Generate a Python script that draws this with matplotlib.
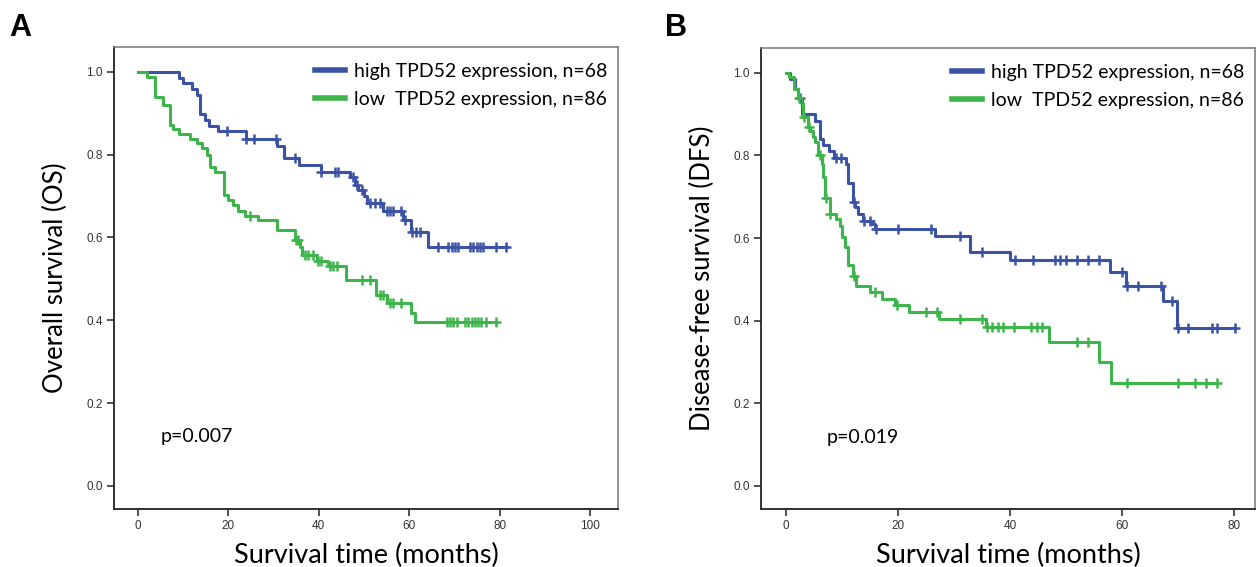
import numpy as np
import matplotlib
matplotlib.use("Agg")
import matplotlib.pyplot as plt

# ---------------- data ----------------
# Panel A: overall survival
a_high_event_t = [9.1, 9.9, 11.9, 13.0, 13.7, 14.8, 15.8, 17.8, 23.8, 30.7, 32.3, 35.6,
                  40.5, 46.8, 48.0, 48.7, 49.9, 50.6, 54.3, 58.7, 60.5, 64.2]
a_high_event_s = [0.985, 0.973, 0.958, 0.944, 0.899, 0.884, 0.870, 0.856, 0.838, 0.821, 0.791, 0.775,
                  0.759, 0.747, 0.727, 0.715, 0.699, 0.684, 0.665, 0.643, 0.612, 0.578]
a_high_cens_t = [19.8, 23.8, 25.7, 30.5, 34.7, 40.6, 43.6, 44.3, 47.5, 48.4, 49.5, 51.3, 52.4, 53.5,
                 55.0, 55.8, 56.5, 58.3, 59.1, 60.6, 61.5, 62.4, 66.4, 68.7, 69.4, 70.1, 70.9,
                 73.4, 74.2, 74.9, 75.7, 76.4, 79.3, 81.4]

a_low_event_t = [2.1, 3.8, 5.6, 7.1, 7.8, 9.0, 11.5, 13.0, 14.1, 15.3, 15.9, 17.0, 19.0, 20.0,
                 21.1, 22.2, 23.7, 26.6, 30.7, 34.7, 35.8, 36.2, 39.5, 42.1, 46.0, 52.7, 55.0,
                 60.5, 61.3]
a_low_event_s = [0.987, 0.940, 0.920, 0.872, 0.861, 0.849, 0.838, 0.828, 0.816, 0.800, 0.771, 0.757,
                 0.703, 0.691, 0.679, 0.663, 0.652, 0.643, 0.617, 0.594, 0.578, 0.558, 0.544,
                 0.530, 0.498, 0.461, 0.441, 0.417, 0.395]
a_low_cens_t = [24.8, 34.9, 35.3, 37.0, 37.7, 38.8, 39.9, 40.6, 42.5, 43.2, 44.0, 49.5, 51.3, 53.5,
                54.3, 55.8, 56.5, 58.3, 68.3, 69.0, 69.8, 70.5, 72.3, 73.1, 73.8, 74.5, 75.3,
                76.0, 77.1, 79.3]

# Panel B: disease-free survival
b_high_event_t = [0.8, 1.6, 2.2, 2.8, 5.2, 6.0, 6.6, 7.6, 8.6, 10.7, 11.0, 12.0, 12.3, 12.9,
                  13.8, 15.3, 15.9, 26.6, 32.9, 40.0, 57.9, 60.8, 67.3, 69.8]
b_high_event_s = [0.985, 0.960, 0.940, 0.900, 0.884, 0.840, 0.824, 0.810, 0.794, 0.780, 0.733, 0.687,
                  0.675, 0.657, 0.640, 0.634, 0.622, 0.606, 0.566, 0.547, 0.518, 0.484, 0.447,
                  0.383]
b_high_cens_t = [2.5, 9.0, 9.9, 12.1, 14.0, 15.0, 16.0, 20.1, 26.0, 31.1, 35.0, 40.9, 44.1, 48.1,
                 49.0, 50.1, 52.0, 54.0, 56.0, 60.1, 60.9, 62.9, 67.0, 69.0, 70.1, 71.9, 76.1,
                 77.0, 80.2]

b_low_event_t = [0.6, 1.5, 2.2, 2.6, 3.0, 4.0, 4.3, 4.8, 5.2, 5.8, 6.4, 6.7, 7.0, 7.9, 9.0, 9.6,
                 10.1, 10.5, 11.1, 12.0, 12.5, 15.0, 17.1, 19.5, 22.0, 27.4, 35.8, 47.0, 56.0,
                 58.0]
b_low_event_s = [0.989, 0.961, 0.940, 0.928, 0.894, 0.868, 0.860, 0.844, 0.832, 0.800, 0.780, 0.747,
                 0.696, 0.659, 0.646, 0.630, 0.602, 0.578, 0.535, 0.508, 0.485, 0.469, 0.453,
                 0.437, 0.421, 0.405, 0.385, 0.349, 0.300, 0.250]
b_low_cens_t = [2.3, 3.2, 4.1, 6.0, 7.1, 7.9, 12.1, 15.9, 19.8, 25.0, 27.0, 31.1, 35.1, 35.9, 36.9,
                37.8, 38.8, 40.8, 43.8, 44.9, 45.8, 52.0, 54.0, 61.0, 70.1, 73.0, 75.1, 77.1]

legend_labels = ["high TPD52 expression, n=68", "low  TPD52 expression, n=86"]
p_values = ["p=0.007", "p=0.019"]
panel_letters = ["A", "B"]
y_labels = ["Overall survival (OS)", "Disease-free survival (DFS)"]
x_label = "Survival time (months)"
a_xticks = [0, 20, 40, 60, 80, 100]
b_xticks = [0, 20, 40, 60, 80]
y_ticks = [0.0, 0.2, 0.4, 0.6, 0.8, 1.0]

BLUE = "#3a53a4"
GREEN = "#3db54a"
LABEL_FONT = ["Lato", "DejaVu Sans"]
TICK_FONT = ["Liberation Sans", "DejaVu Sans"]

fig = plt.figure(figsize=(12.56, 5.67), dpi=100)
W, H = 1256, 567


def ax_rect(l, r, t, b):
    return [l / W, 1 - b / H, (r - l) / W, (b - t) / H]


def km(ax, ev_t, ev_s, cens_t, color, label):
    end = max(max(cens_t), max(ev_t))
    x = [0.0] + list(ev_t) + [end]
    y = [1.0] + list(ev_s) + [ev_s[-1]]
    ax.step(x, y, where="post", color=color, lw=2.2, label=label, zorder=3)
    ev_t_arr = np.asarray(ev_t)
    ev_s_arr = np.asarray(ev_s)
    idx = np.searchsorted(ev_t_arr, np.asarray(cens_t), side="right")
    cs = np.where(idx > 0, ev_s_arr[np.maximum(idx - 1, 0)], 1.0)
    ax.plot(cens_t, cs, ls="none", marker="+", ms=6.5, mew=1.8, color=color, zorder=4)


def style(ax, xticks, xlim, ylab, ptext, px, letter, letter_x):
    ax.set_xlim(*xlim)
    ax.set_ylim(-0.056, 1.06)
    ax.set_xticks(xticks)
    ax.set_yticks(y_ticks)
    ax.set_xticklabels([str(v) for v in xticks], fontfamily=TICK_FONT, fontsize=8.5, color="#333333")
    ax.set_yticklabels([f"{v:.1f}" for v in y_ticks], fontfamily=TICK_FONT, fontsize=8.5, color="#333333")
    ax.tick_params(direction="out", length=5, width=1.2, color="#333333", pad=3)
    for s in ["left", "bottom"]:
        ax.spines[s].set_color("#222222")
        ax.spines[s].set_linewidth(1.3)
    for s in ["top", "right"]:
        ax.spines[s].set_color("#777777")
        ax.spines[s].set_linewidth(1.1)
    ax.set_xlabel(x_label, fontfamily=LABEL_FONT, fontsize=19.5, labelpad=8)
    ax.set_ylabel(ylab, fontfamily=LABEL_FONT, fontsize=18.5, labelpad=13)
    ax.text(px, 0.118, ptext, fontfamily=LABEL_FONT, fontsize=14, va="center", ha="left")
    leg = ax.legend(loc="upper right", frameon=False, prop={"family": LABEL_FONT, "size": 14},
                    handlelength=1.5, handletextpad=0.5, labelspacing=0.55,
                    borderaxespad=0.0, bbox_to_anchor=(0.995, 0.982))
    for ln in leg.get_lines():
        ln.set_linewidth(4.0)
    fig.text(letter_x / W, 1 - 28 / H, letter, fontfamily=["Liberation Sans", "DejaVu Sans"],
             fontsize=22, fontweight="bold", va="center", ha="left")


axA = fig.add_axes(ax_rect(114, 618, 47, 509))
km(axA, a_high_event_t, a_high_event_s, a_high_cens_t, BLUE, legend_labels[0])
km(axA, a_low_event_t, a_low_event_s, a_low_cens_t, GREEN, legend_labels[1])
style(axA, a_xticks, (-5.3, 106.2), y_labels[0], p_values[0], 5.0, panel_letters[0], 9)

axB = fig.add_axes(ax_rect(761, 1255, 48, 509))
km(axB, b_high_event_t, b_high_event_s, b_high_cens_t, BLUE, legend_labels[0])
km(axB, b_low_event_t, b_low_event_s, b_low_cens_t, GREEN, legend_labels[1])
style(axB, b_xticks, (-4.46, 83.8), y_labels[1], p_values[1], 7.2, panel_letters[1], 665)

fig.savefig("out.png", dpi=100)
